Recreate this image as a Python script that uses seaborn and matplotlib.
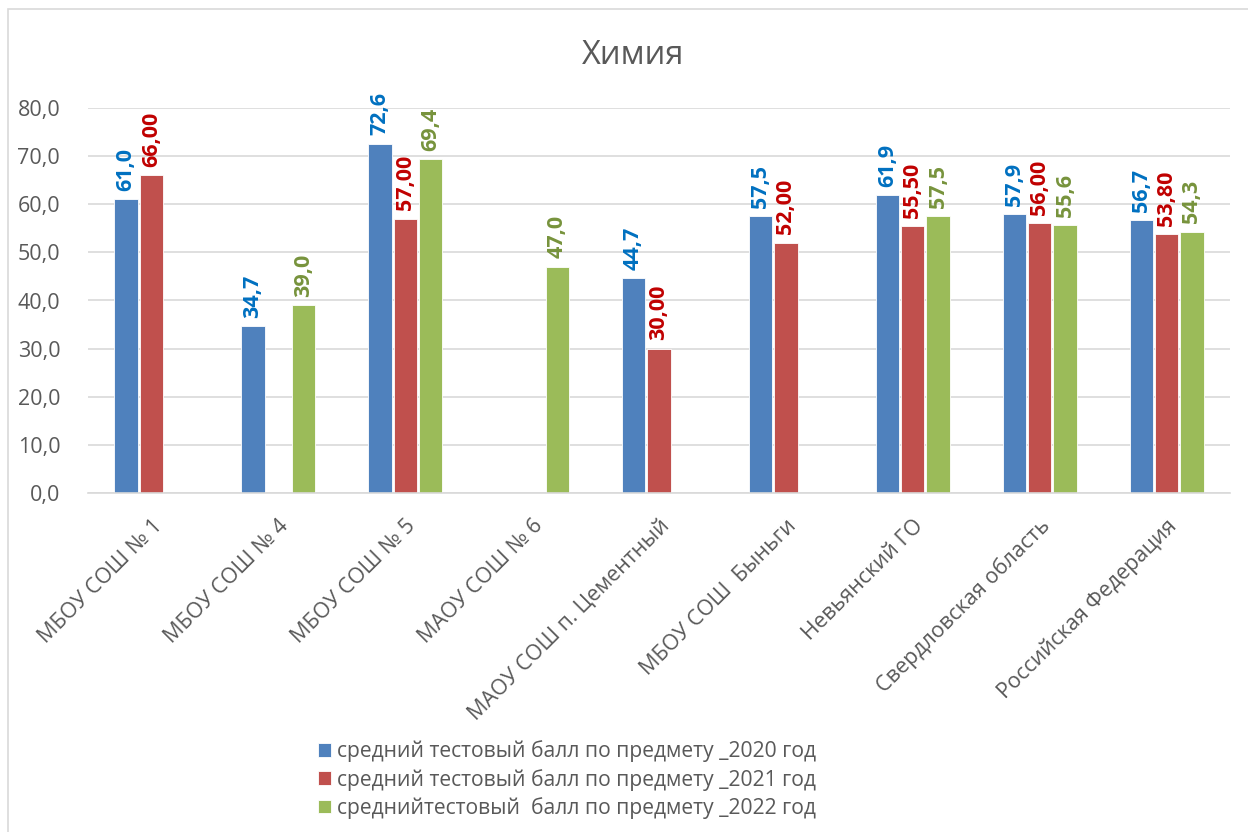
import numpy as np
import pandas as pd
import seaborn as sns
import matplotlib.pyplot as plt
from matplotlib.patches import Rectangle

categories = ['МБОУ СОШ № 1', 'МБОУ СОШ № 4', 'МБОУ СОШ № 5', 'МАОУ СОШ № 6',
              'МАОУ СОШ п. Цементный', 'МБОУ СОШ  Быньги', 'Невьянский ГО',
              'Свердловская область', 'Российская Федерация']
series = ['средний тестовый балл по предмету _2020 год',
          'средний тестовый балл по предмету _2021 год',
          'среднийтестовый  балл по предмету _2022 год']
vals_2020 = [61.0, 34.7, 72.6, np.nan, 44.7, 57.5, 61.9, 57.9, 56.7]
vals_2021 = [66.00, np.nan, 57.00, np.nan, 30.00, 52.00, 55.50, 56.00, 53.80]
vals_2022 = [np.nan, 39.0, 69.4, 47.0, np.nan, np.nan, 57.5, 55.6, 54.3]
y_ticks = [0, 10, 20, 30, 40, 50, 60, 70, 80]

bar_colors = ['#4F81BD', '#C0504D', '#9BBB59']
label_colors = ['#0070C0', '#C00000', '#77933C']
decimals = [1, 2, 1]
gray = '#595959'

df = pd.DataFrame({
    'cat': categories * 3,
    'series': [s for s in series for _ in categories],
    'val': vals_2020 + vals_2021 + vals_2022,
})

sns.set_theme(style='white')
plt.rcParams['font.family'] = ['Open Sans', 'DejaVu Sans']

fig = plt.figure(figsize=(12.48, 8.32), dpi=100)
ax = fig.add_axes([88 / 1248, 1 - 493 / 832, (1230 - 88) / 1248, (493 - 108) / 832])

sns.barplot(data=df, x='cat', y='val', hue='series', hue_order=series, order=categories,
            palette=bar_colors, width=0.6, gap=0.08, edgecolor='white', linewidth=0.6,
            saturation=1, ax=ax, legend=True)

for i, cont in enumerate(ax.containers):
    labels = []
    for bar in cont:
        h = bar.get_height()
        if h is None or np.isnan(h):
            labels.append('')
        else:
            labels.append(f'{h:.{decimals[i]}f}'.replace('.', ','))
    ax.bar_label(cont, labels=labels, rotation=90, padding=6, color=label_colors[i],
                 fontsize=15.5, fontweight='bold')

ax.set_ylim(0, 80)
ax.set_xlim(-0.5, len(categories) - 0.5)
ax.set_yticks(y_ticks)
ax.set_yticklabels([f'{t:.1f}'.replace('.', ',') for t in y_ticks], fontsize=15.5, color=gray)
ax.set_xticks(range(len(categories)))
ax.set_xticklabels(categories, rotation=45, ha='right', va='top', rotation_mode='anchor',
                   fontsize=15.5, color=gray)
ax.tick_params(axis='x', length=0, pad=16)
ax.tick_params(axis='y', length=0, pad=20)
ax.set_xlabel('')
ax.set_ylabel('')
ax.yaxis.grid(True, color='#D9D9D9', linewidth=1.2)
ax.set_axisbelow(True)
for s in ['top', 'right', 'left']:
    ax.spines[s].set_visible(False)
ax.spines['bottom'].set_color('#D9D9D9')
ax.spines['bottom'].set_linewidth(1.2)

handles, labs = ax.get_legend_handles_labels()
ax.legend_.remove()
fig.legend(handles, labs, loc='upper left', bbox_to_anchor=(310 / 1248, 1 - 732 / 832),
           frameon=False, fontsize=15.2, labelcolor=gray, handlelength=0.6, handleheight=0.6,
           handletextpad=0.3, labelspacing=0.3, borderaxespad=0)

fig.text(633 / 1248, 1 - 56 / 832, 'Химия', ha='center', va='center', fontsize=23.5, color=gray)

fig.patches.append(Rectangle((8 / 1248, -0.1), 1.2, 1 - 9 / 832 + 0.1, transform=fig.transFigure,
                             fill=False, edgecolor='#D9D9D9', linewidth=1.2))

fig.savefig('out.png', dpi=100, facecolor='white')
